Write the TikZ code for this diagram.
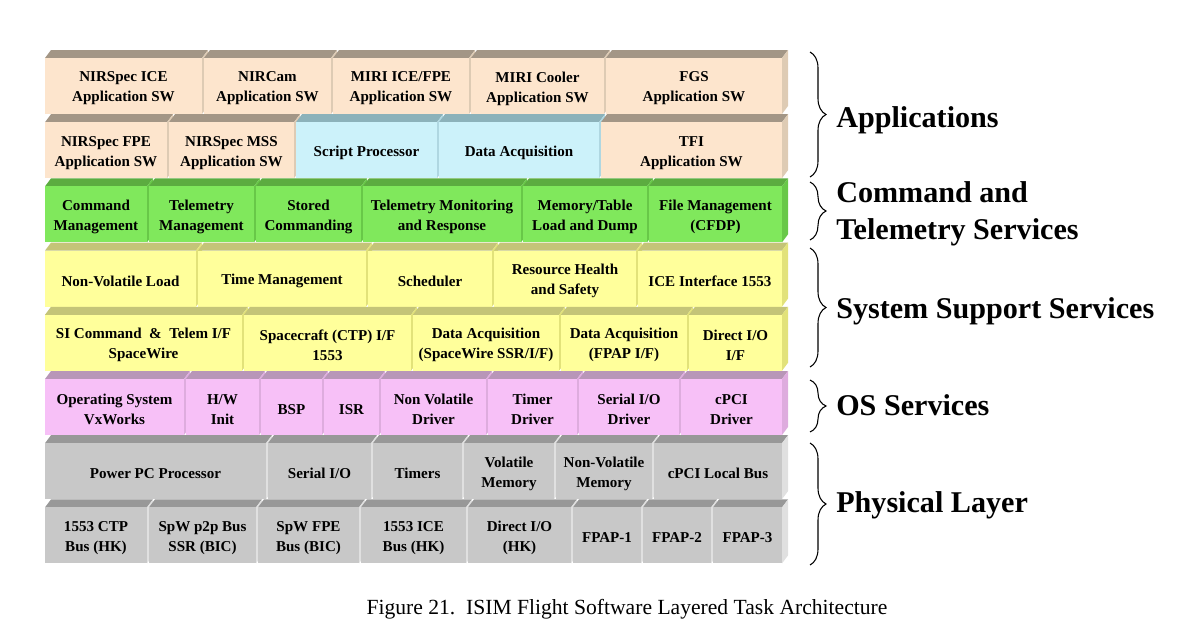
\documentclass[tikz,border=0pt]{standalone}
\usepackage{fontspec}
\setmainfont{Liberation Serif}
\usetikzlibrary{decorations.pathreplacing}

\definecolor{appfront}{RGB}{253,229,205}
\definecolor{apptop}{RGB}{163,150,134}
\definecolor{appside}{RGB}{222,203,180}
\definecolor{bluefront}{RGB}{204,242,250}
\definecolor{bluetop}{RGB}{140,178,186}
\definecolor{blueside}{RGB}{175,215,225}
\definecolor{grnfront}{RGB}{128,232,92}
\definecolor{grntop}{RGB}{92,172,64}
\definecolor{grnside}{RGB}{104,200,72}
\definecolor{ylwfront}{RGB}{255,255,155}
\definecolor{ylwtop}{RGB}{196,196,120}
\definecolor{ylwside}{RGB}{226,226,122}
\definecolor{pnkfront}{RGB}{247,192,247}
\definecolor{pnktop}{RGB}{184,150,184}
\definecolor{pnkside}{RGB}{222,172,222}
\definecolor{gryfront}{RGB}{200,200,200}
\definecolor{grytop}{RGB}{152,152,152}
\definecolor{gryside}{RGB}{224,224,224}

\tikzset{
  boxtext/.style={font=\bfseries\fontsize{11.3}{15}\selectfont, align=center, inner sep=0pt},
  layertext/.style={font=\bfseries\fontsize{22.6}{27.5}\selectfont, align=left, anchor=west, inner sep=0pt},
  bracket/.style={decorate, decoration={brace, amplitude=12pt}, line width=0.8pt},
}

% 3d slab: name, left x, right x, top y, colour, text
\newcommand{\layerbox}[6]{%
  \fill[#5top] (#2,#4) -- (#3,#4) -- (#3+6,#4-8) -- (#2+6,#4-8) -- cycle;
  \fill[#5side] (#3,#4) -- (#3+6,#4-8) -- (#3+6,#4+48) -- (#3,#4+56) -- cycle;
  \fill[#5front] (#2,#4) rectangle (#3,#4+56);
  \node[boxtext] (#1) at ({(#2+#3)/2},#4+30.5) {#6};
}

\begin{document}
\begin{tikzpicture}[x=0.75pt,y=0.75pt,yscale=-1,xscale=1]
\useasboundingbox (0,0) rectangle (1200,643);

%Row: Applications (1)
\layerbox{nirspecice}{45}{202}{58}{app}{NIRSpec ICE\\Application SW}
\layerbox{nircam}{204}{331}{58}{app}{NIRCam\\Application SW}
\layerbox{miriice}{333}{469}{58}{app}{MIRI ICE/FPE\\Application SW}
\layerbox{miricool}{471}{604}{58}{app}{MIRI Cooler\\Application SW}
\layerbox{fgs}{606}{782}{58}{app}{FGS\\Application SW}
%Row: Applications (2)
\layerbox{nirspecfpe}{45}{167}{122.2}{app}{NIRSpec FPE\\Application SW}
\layerbox{nirspecmss}{169}{294}{122.2}{app}{NIRSpec MSS\\Application SW}
\layerbox{script}{296}{437}{122.2}{blue}{Script Processor}
\layerbox{dataacq}{439}{599}{122.2}{blue}{Data Acquisition}
\layerbox{tfi}{601}{782}{122.2}{app}{TFI\\Application SW}
%Row: Command and Telemetry Services
\layerbox{cmdmgmt}{45}{147}{186.4}{grn}{Command\\Management}
\layerbox{tlmmgmt}{149}{254}{186.4}{grn}{Telemetry\\Management}
\layerbox{stored}{256}{361}{186.4}{grn}{Stored\\Commanding}
\layerbox{tlmmon}{363}{521}{186.4}{grn}{Telemetry Monitoring\\and Response}
\layerbox{memtable}{523}{647}{186.4}{grn}{Memory/Table\\Load and Dump}
\layerbox{filemgmt}{649}{782}{186.4}{grn}{File Management\\(CFDP)}
%Row: System Support Services (1)
\layerbox{nvload}{45}{196}{250.6}{ylw}{Non-Volatile Load}
\layerbox{timemgmt}{198}{366}{250.6}{ylw}{Time Management}
\layerbox{sched}{368}{492}{250.6}{ylw}{Scheduler}
\layerbox{health}{494}{636}{250.6}{ylw}{Resource Health\\and Safety}
\layerbox{iceif}{638}{782}{250.6}{ylw}{ICE Interface 1553}
%Row: System Support Services (2)
\layerbox{siif}{45}{242}{314.8}{ylw}{SI Command~~\&~~Telem I/F\\SpaceWire}
\layerbox{scif}{244}{411}{314.8}{ylw}{Spacecraft (CTP) I/F\\1553}
\layerbox{dassr}{413}{559}{314.8}{ylw}{Data Acquisition\\(SpaceWire SSR/I/F)}
\layerbox{dafpap}{561}{687}{314.8}{ylw}{Data Acquisition\\(FPAP I/F)}
\layerbox{dioif}{689}{782}{314.8}{ylw}{Direct I/O\\I/F}
%Row: OS Services
\layerbox{os}{45}{184}{379}{pnk}{Operating System\\VxWorks}
\layerbox{hwinit}{186}{259}{379}{pnk}{H/W\\Init}
\layerbox{bsp}{261}{322}{379}{pnk}{BSP}
\layerbox{isr}{324}{379}{379}{pnk}{ISR}
\layerbox{nvdrv}{381}{486}{379}{pnk}{Non Volatile\\Driver}
\layerbox{timerdrv}{488}{577}{379}{pnk}{Timer\\Driver}
\layerbox{siodrv}{579}{679}{379}{pnk}{Serial I/O\\Driver}
\layerbox{cpcidrv}{681}{782}{379}{pnk}{cPCI\\Driver}
%Row: Physical Layer (1)
\layerbox{ppc}{45}{266}{443.2}{gry}{Power PC Processor}
\layerbox{serial}{268}{371}{443.2}{gry}{Serial I/O}
\layerbox{timers}{373}{462}{443.2}{gry}{Timers}
\layerbox{vmem}{464}{554}{443.2}{gry}{Volatile\\Memory}
\layerbox{nvmem}{556}{652}{443.2}{gry}{Non-Volatile\\Memory}
\layerbox{cpcibus}{654}{782}{443.2}{gry}{cPCI Local Bus}
%Row: Physical Layer (2)
\layerbox{ctpbus}{45}{147}{507.4}{gry}{1553 CTP\\Bus (HK)}
\layerbox{spwssr}{149}{256}{507.4}{gry}{SpW p2p Bus\\SSR (BIC)}
\layerbox{spwfpe}{258}{359}{507.4}{gry}{SpW FPE\\Bus (BIC)}
\layerbox{icebus}{361}{466}{507.4}{gry}{1553 ICE\\Bus (HK)}
\layerbox{diohk}{468}{571}{507.4}{gry}{Direct I/O\\(HK)}
\layerbox{fpapa}{573}{641}{507.4}{gry}{FPAP-1}
\layerbox{fpapb}{643}{711}{507.4}{gry}{FPAP-2}
\layerbox{fpapc}{713}{782}{507.4}{gry}{FPAP-3}

%Braces
\draw[bracket] (810,52) -- (810,177);
\draw[bracket] (810,182) -- (810,240);
\draw[bracket] (810,248) -- (810,367);
\draw[bracket] (810,380) -- (810,432);
\draw[bracket] (810,443) -- (810,565);

% Text Node
\node[layertext] (apps) at (836,120) {Applications};
\node[layertext] (cmdtlm) at (836,213.5) {Command and\\Telemetry Services};
\node[layertext] (syssup) at (836,311) {System Support Services};
\node[layertext] (ossvc) at (836,405) {OS Services};
\node[layertext] (phys) at (836,505) {Physical Layer};
% Text Node
\node[font=\fontsize{16.2}{19}\selectfont, inner sep=0pt] (caption) at (627,609) {Figure 21.\ \ ISIM Flight Software Layered Task Architecture};
\end{tikzpicture}
\end{document}
